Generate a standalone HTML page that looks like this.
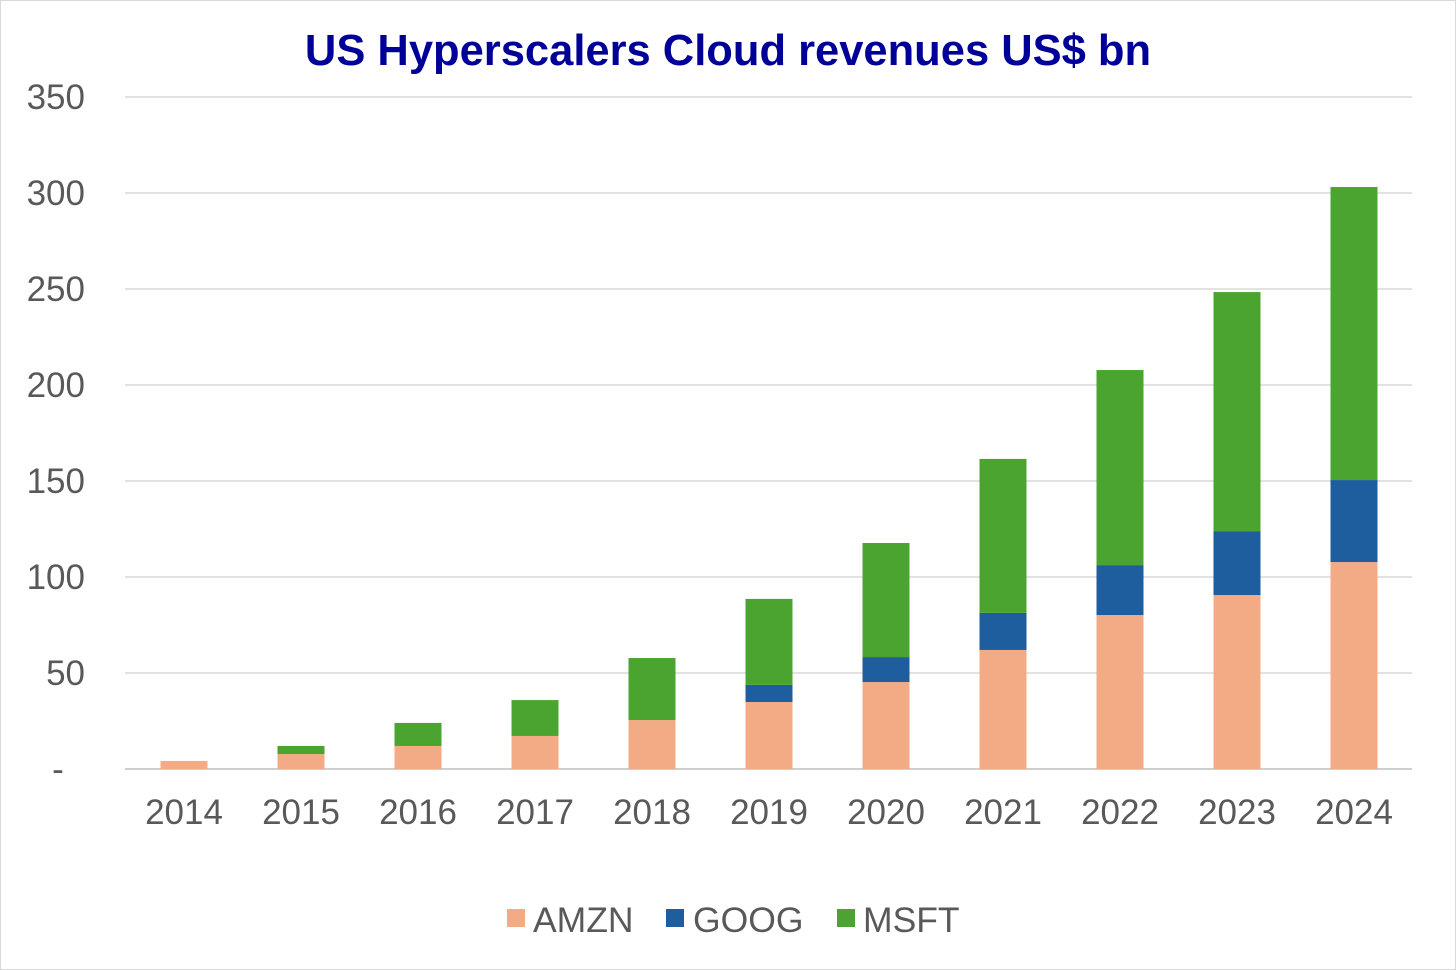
<!DOCTYPE html>
<html><head><meta charset="utf-8"><style>
html,body{margin:0;padding:0;background:#fff;}
svg{display:block;font-family:"Liberation Sans",Arial,sans-serif;}
</style></head><body>
<svg id="chart" width="1456" height="970">
<rect x="0.5" y="0.5" width="1455" height="969" fill="#fff" stroke="#d9d9d9"/>
<text x="728" y="65" text-anchor="middle" font-size="43.5" font-weight="bold" fill="#000099">US Hyperscalers Cloud revenues US$ bn</text>
<g id="grid"></g><g id="bars"></g><g id="xlabels"></g>
<g>
<rect x="507" y="909" width="18" height="18" fill="#F3AB85"/>
<text x="533" y="932" font-size="35.5" fill="#595959">AMZN</text>
<rect x="666" y="909" width="18" height="18" fill="#1F5E9E"/>
<text x="693" y="932" font-size="35.5" fill="#595959">GOOG</text>
<rect x="837" y="909" width="18" height="18" fill="#4BA42F"/>
<text x="863" y="932" font-size="35.5" fill="#595959">MSFT</text>
</g>
</svg>
<script>
const years=["2014","2015","2016","2017","2018","2019","2020","2021","2022","2023","2024"];
const amzn=[4.2,7.8,12.0,17.2,25.5,34.9,45.3,62.0,80.2,90.6,107.8];
const goog=[0,0,0,0,0,8.9,13.0,19.3,26.0,33.3,42.7];
const msft=[0,4.2,12.0,18.7,32.3,44.8,59.4,80.2,101.6,124.5,152.6];
const yTicks=[0,50,100,150,200,250,300,350];
const yTickLabels=["-","50","100","150","200","250","300","350"];
const NS="http://www.w3.org/2000/svg";
const y0=769,pxPer=1.92,x0=125,x1=1412,step=117,bw=47;
const yS=v=>y0-v*pxPer;
const xC=i=>184+i*step;
function mk(t,a,p){const e=document.createElementNS(NS,t);for(const k in a)e.setAttribute(k,a[k]);p.appendChild(e);return e;}
const grid=document.getElementById('grid');
yTicks.forEach((v,i)=>{
  const l=mk('line',{x1:x0,x2:x1,y1:yS(v),y2:yS(v),stroke:i==0?'#bfbfbf':'#d9d9d9','stroke-width':1.5},grid);
  
  
  const t=mk('text',{x:i==0?58:85,y:yS(v)+12,'text-anchor':i==0?'middle':'end','font-size':35,fill:'#595959'},grid);
  t.textContent=yTickLabels[i];
  
  
});
const bars=document.getElementById('bars'),xl=document.getElementById('xlabels');
years.forEach((yr,i)=>{
  let base=0;
  [[amzn,'#F3AB85','amzn'],[goog,'#1F5E9E','goog'],[msft,'#4BA42F','msft']].forEach(([arr,c,n])=>{
    const v=arr[i];
    if(v>0){
      const r=mk('rect',{x:xC(i)-bw/2,y:yS(base+v),width:bw,height:v*pxPer,fill:c},bars);
      
      
    }
    base+=v;
  });
  const t=mk('text',{x:xC(i),y:824,'text-anchor':'middle','font-size':35,fill:'#595959'},xl);
  t.textContent=yr;
  
  
});
</script>
</body></html>
